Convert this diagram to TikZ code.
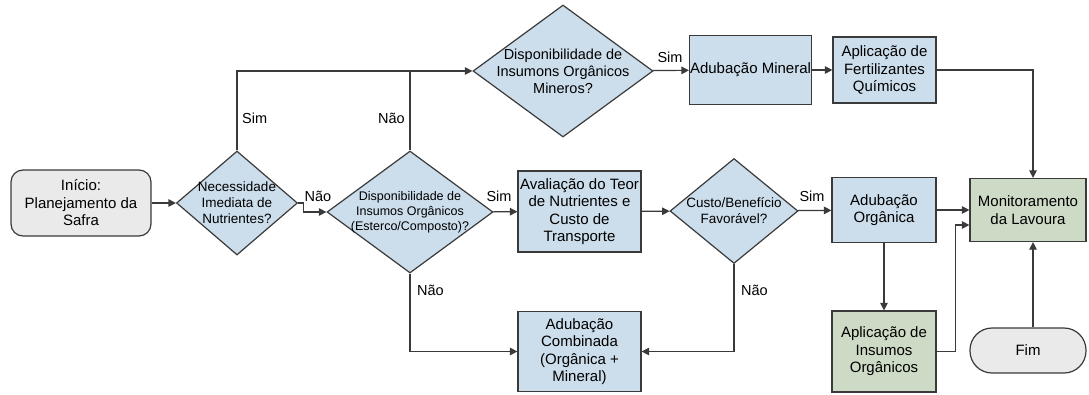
\documentclass[tikz,border=0pt]{standalone}
\usepackage{fontspec}
\setmainfont{Liberation Sans}
\usetikzlibrary{shapes.geometric,arrows.meta}
\definecolor{FBBlue}{HTML}{CCDDEB}
\definecolor{FBGreen}{HTML}{CDDAC5}
\definecolor{FBGray}{HTML}{EAEAEA}
\definecolor{FBLine}{HTML}{3A3A3A}

\begin{document}
\begin{tikzpicture}[x=1pt,y=-1pt,
  box/.style={draw=FBLine,line width=1.2pt,fill=FBBlue,align=center,inner sep=0.5pt,font=\fontsize{15}{17.5}\selectfont},
  greenbox/.style={box,fill=FBGreen},
  startbox/.style={box,fill=FBGray,rounded corners=12pt},
  endbox/.style={box,fill=FBGray,rounded corners=22pt},
  choice/.style={draw=FBLine,line width=1.2pt,fill=FBBlue,diamond,align=center,inner sep=-8pt},
  link/.style={draw=FBLine,line width=1.2pt,-{Triangle[length=7.5pt,width=7.5pt]}},
  plain/.style={draw=FBLine,line width=1.2pt},
  tag/.style={font=\fontsize{14.5}{16}\selectfont,inner sep=0pt}]
\path[use as bounding box] (0,0) rectangle (1089,394);
\node[startbox,minimum width=140pt,minimum height=66pt] (inicio) at (81,203) {Início:\\Planejamento da\\Safra};
\node[choice,aspect=1.16,minimum width=121pt,minimum height=104pt,font=\fontsize{13.5}{16}\selectfont] (necess) at (237,203) {Necessidade\\Imediata de\\Nutrientes?};
\node[choice,aspect=1.36,minimum width=166pt,minimum height=122pt,font=\fontsize{12.5}{15}\selectfont] (dispcomp) at (410,212) {Disponibilidade de\\Insumos Orgânicos\\(Esterco/Composto)?};
\node[choice,aspect=1.36,minimum width=180pt,minimum height=132pt,font=\fontsize{14.5}{17}\selectfont] (dispmin) at (563,71) {Disponibilidade de\\Insumons Orgânicos\\Mineros?};
\node[box,minimum width=119pt,minimum height=69pt] (mineral) at (750.5,70) {Adubação Mineral};
\node[box,minimum width=103pt,minimum height=66pt] (quimicos) at (884.5,70) {Aplicação de\\Fertilizantes\\Químicos};
\node[box,minimum width=123pt,minimum height=81pt] (avaliacao) at (579.5,211.5) {Avaliação do Teor\\de Nutrientes e\\Custo de\\Transporte};
\node[choice,aspect=1.22,minimum width=128pt,minimum height=105pt,font=\fontsize{13.5}{16}\selectfont] (custo) at (734,211) {Custo/Benefício\\Favorável?};
\node[box,minimum width=104pt,minimum height=65pt] (organica) at (884,210) {Adubação\\Orgânica};
\node[greenbox,minimum width=116pt,minimum height=63pt] (monit) at (1028,210) {Monitoramento\\da Lavoura};
\node[greenbox,minimum width=104pt,minimum height=81pt] (insumos) at (884,351.5) {Aplicação de\\Insumos\\Orgânicos};
\node[box,minimum width=123pt,minimum height=80pt] (combinada) at (579.5,351.5) {Adubação\\Combinada\\(Orgânica +\\Mineral)};
\node[endbox,minimum width=116pt,minimum height=45pt] (fim) at (1028,350.5) {Fim};
\draw[link] (inicio) -- (necess);
\draw[link] (necess.east) -- ++(5,0) |- (dispcomp.west);
\draw[link] (necess.north) |- (dispmin.west);
\draw[plain] (dispcomp.north) -- (dispcomp.north |- dispmin.west);
\draw[link] (dispmin) -- (mineral);
\draw[link] (mineral) -- (quimicos);
\draw[link] (quimicos.east) -| ([xshift=5pt]monit.north);
\draw[link] (dispcomp) -- (avaliacao);
\draw[link] (avaliacao) -- (custo);
\draw[link] (custo) -- (organica);
\draw[link] (organica) -- (monit);
\draw[link] (organica) -- (insumos);
\draw[link] (insumos.east) -- ++(19,0) |- ([yshift=-15pt]monit.west);
\draw[link] ([xshift=5pt]fim.north) -- ([xshift=5pt]monit.south);
\draw[link] (dispcomp.south) |- (combinada.west);
\draw[link] (custo.south) |- (combinada.east);
\node[tag,anchor=west] (simA) at (242,118) {Sim};
\node[tag,anchor=east] (naoA) at (405,118) {Não};
\node[tag] (naoB) at (318,196) {Não};
\node[tag] (simB) at (670,57) {Sim};
\node[tag] (simC) at (499,196) {Sim};
\node[tag] (simD) at (812,196) {Sim};
\node[tag,anchor=west] (naoC) at (417,290) {Não};
\node[tag,anchor=west] (naoD) at (741,290) {Não};
\end{tikzpicture}
\end{document}
